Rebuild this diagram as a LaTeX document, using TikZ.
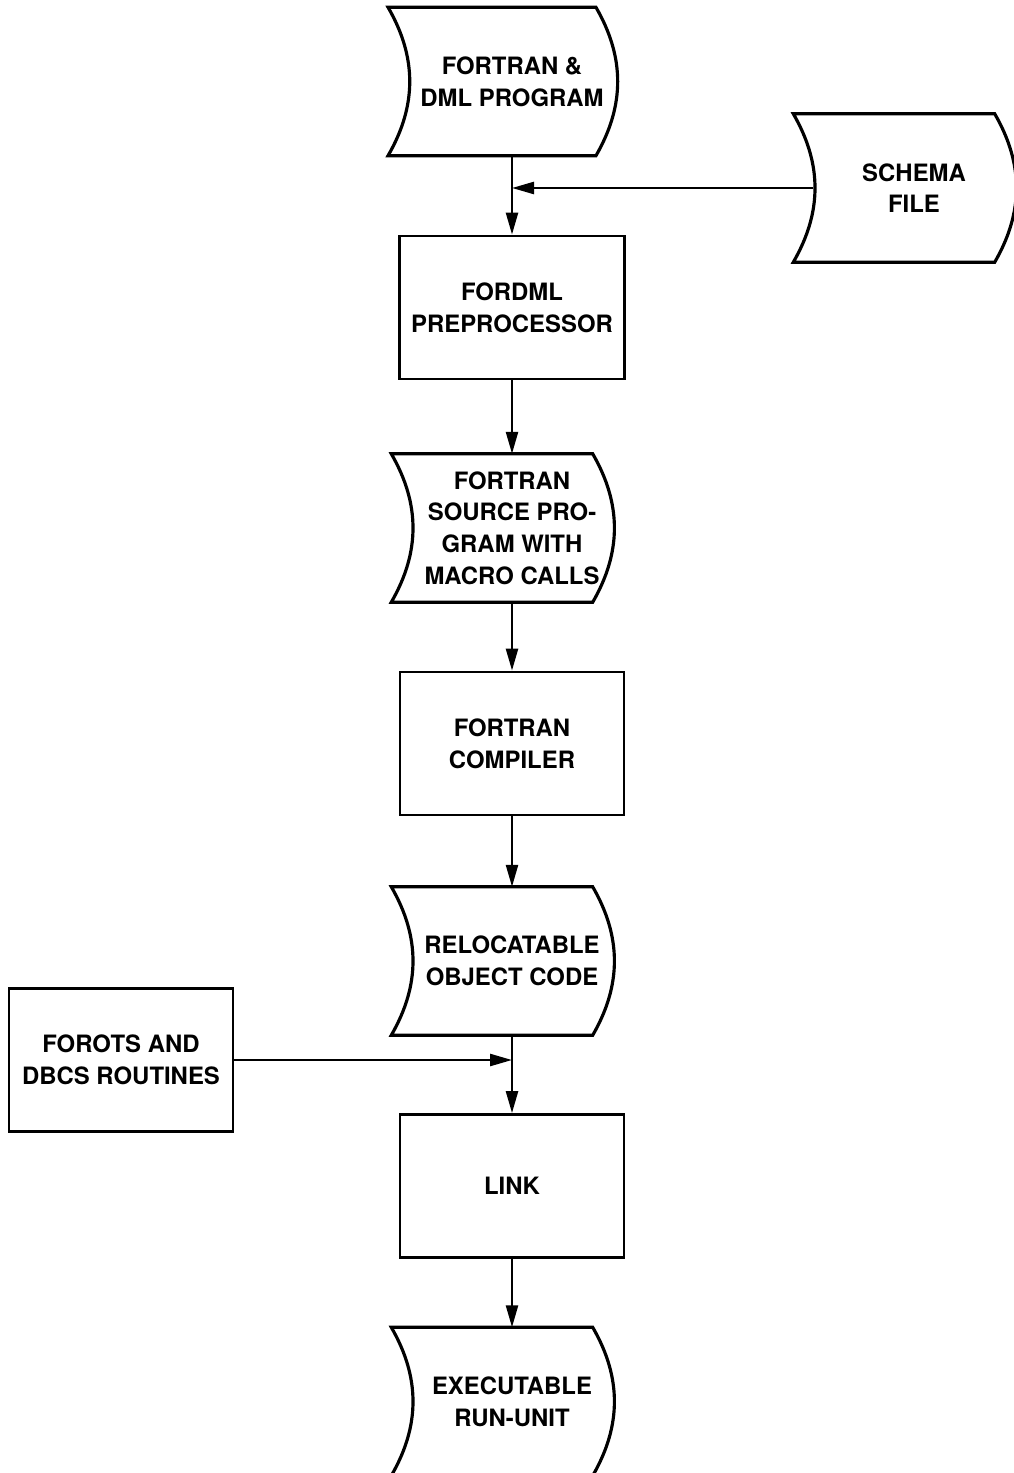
\documentclass[tikz,border=0pt]{standalone}
\usepackage{fontspec}
\setmainfont{TeX Gyre Heros}
\usetikzlibrary{arrows.meta}
\begin{document}
\begin{tikzpicture}[
  box/.style={draw, line width=0.8pt, minimum width=2.24cm, minimum height=1.43cm, align=center, font=\fontsize{6.8}{9}\selectfont\bfseries},
  store/.style={minimum width=2cm, minimum height=1.47cm, align=center, font=\fontsize{6.8}{9}\selectfont\bfseries},
  flow/.style={line width=0.7pt, -{Triangle[length=2.2mm,width=1.2mm]}}
]
\useasboundingbox (0,0) rectangle (10.13,-14.73);
\node[store] (prog) at (5.12,-0.815) {FORTRAN \&\\DML PROGRAM};
\node[store] (schema) at (9.14,-1.88) {SCHEMA\\FILE};
\node[box] (fordml) at (5.12,-3.075) {FORDML\\PREPROCESSOR};
\node[store] (src) at (5.12,-5.28) {FORTRAN\\SOURCE PRO-\\GRAM WITH\\MACRO CALLS};
\node[box] (comp) at (5.12,-7.435) {FORTRAN\\COMPILER};
\node[store] (reloc) at (5.12,-9.61) {RELOCATABLE\\OBJECT CODE};
\node[box] (forots) at (1.21,-10.6) {FOROTS AND\\DBCS ROUTINES};
\node[box] (link) at (5.12,-11.86) {LINK};
\node[store] (exe) at (5.12,-14.015) {EXECUTABLE\\RUN-UNIT};
\coordinate (j1) at (5.12,-1.88);
\coordinate (j2) at (5.12,-10.6);
% stored data outlines
\foreach \n in {prog,schema,src,reloc,exe}
  \draw[line width=0.9pt] ([xshift=-2mm]\n.north west) to[bend left=30] ([xshift=-2mm]\n.south west) -- ([xshift=-2mm]\n.south east) to[bend right=30] ([xshift=-2mm]\n.north east) -- cycle;
% connectors
\draw[line width=0.7pt] (prog.south) -- (j1);
\draw[flow] (j1) -- (fordml.north);
\draw[flow] (schema.west) -- (j1);
\draw[flow] (fordml.south) -- (src.north);
\draw[flow] (src.south) -- (comp.north);
\draw[flow] (comp.south) -- (reloc.north);
\draw[line width=0.7pt] (reloc.south) -- (j2);
\draw[flow] (forots.east) -- (j2);
\draw[flow] (j2) -- (link.north);
\draw[flow] (link.south) -- (exe.north);
\end{tikzpicture}
\end{document}
